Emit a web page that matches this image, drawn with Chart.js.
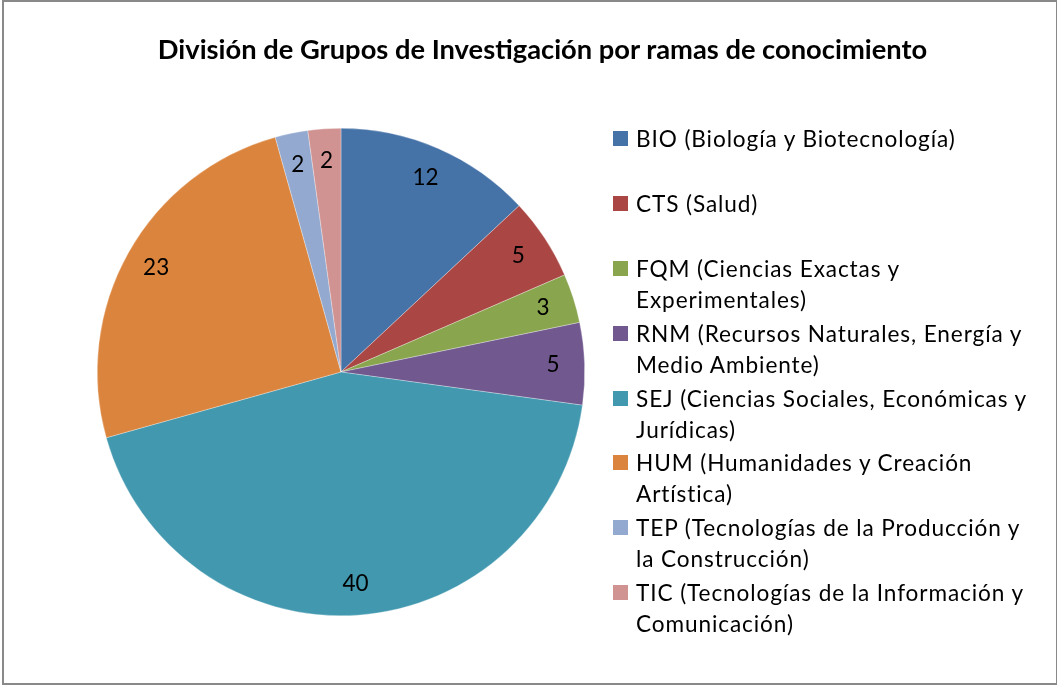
<!DOCTYPE html>
<html lang="es">
<head>
  <meta charset="UTF-8" />
  <title>División de Grupos de Investigación</title>
  <script src="https://cdn.jsdelivr.net/npm/chart.js"></script>
  <style>
    body { margin: 0; background: #fff; font-family: Lato, "Open Sans", sans-serif; }
    #frame { position: absolute; left: 2px; top: 0; width: 1052px; height: 681px; border: 2px solid #898989; }
    #title { position: absolute; left: 14px; top: 32px; width: 1057px; text-align: center; font-weight: bold; font-size: 27.3px; color: #000; }
    #chart { position: absolute; left: 0; top: 0; }
    #legend { position: absolute; left: 613px; top: 123px; }
    .item { height: 64.9px; position: relative; }
    .item .box { position: absolute; left: 0; top: 8px; width: 15px; height: 15px; }
    .item .txt { position: absolute; left: 23px; top: 0; font-size: 22.6px; letter-spacing: 0.9px; line-height: 31px; white-space: nowrap; color: #000; }
  </style>
</head>
<body>
  <div id="frame"></div>
  <canvas id="chart" width="1057" height="685"></canvas>
  <div id="title">División de Grupos de Investigación por ramas de conocimiento</div>
  <div id="legend"></div>

  <script>
    const labels = [
      ['BIO (Biología y Biotecnología)'],
      ['CTS (Salud)'],
      ['FQM (Ciencias Exactas y', 'Experimentales)'],
      ['RNM (Recursos Naturales, Energía y', 'Medio Ambiente)'],
      ['SEJ (Ciencias Sociales, Económicas y', 'Jurídicas)'],
      ['HUM (Humanidades y Creación', 'Artística)'],
      ['TEP (Tecnologías de la Producción y', 'la Construcción)'],
      ['TIC (Tecnologías de la Información y', 'Comunicación)']
    ];
    const values = [12, 5, 3, 5, 40, 23, 2, 2];
    const colors = ['#4572A7', '#AA4643', '#89A54E', '#71588F', '#4198AF', '#DB843D', '#93A9CF', '#D19392'];

    // Beschriftung der Segmente (Wert innen am Rand)
    const sliceLabels = {
      id: 'sliceLabels',
      afterDatasetsDraw(chart) {
        const ctx = chart.ctx;
        const meta = chart.getDatasetMeta(0);
        ctx.save();
        ctx.font = '22.5px Lato, sans-serif';
        ctx.fillStyle = '#000';
        ctx.textAlign = 'center';
        ctx.textBaseline = 'middle';
        meta.data.forEach((arc, i) => {
          const a = (arc.startAngle + arc.endAngle) / 2;
          const r = arc.outerRadius * 0.87;
          ctx.fillText(values[i], arc.x + Math.cos(a) * r, arc.y + Math.sin(a) * r);
        });
        ctx.restore();
      }
    };

    new Chart(document.getElementById('chart'), {
      type: 'pie',
      data: {
        labels: labels,
        datasets: [{ data: values, backgroundColor: colors, borderColor: 'rgba(255,255,255,0.6)', borderWidth: 0.5 }]
      },
      options: {
        responsive: false,
        animation: false,
        layout: { padding: { left: 97, right: 472, top: 128, bottom: 69 } },
        plugins: { legend: { display: false }, tooltip: { enabled: false }, title: { display: false } }
      },
      plugins: [sliceLabels]
    });

    // Legende als HTML, damit die Zeilen umbrechen
    const legend = document.getElementById('legend');
    labels.forEach((lines, i) => {
      const item = document.createElement('div');
      item.className = 'item';
      item.innerHTML = `<div class="box" style="background:${colors[i]}"></div><div class="txt">${lines.join('<br>')}</div>`;
      legend.appendChild(item);
    });
  </script>
</body>
</html>
